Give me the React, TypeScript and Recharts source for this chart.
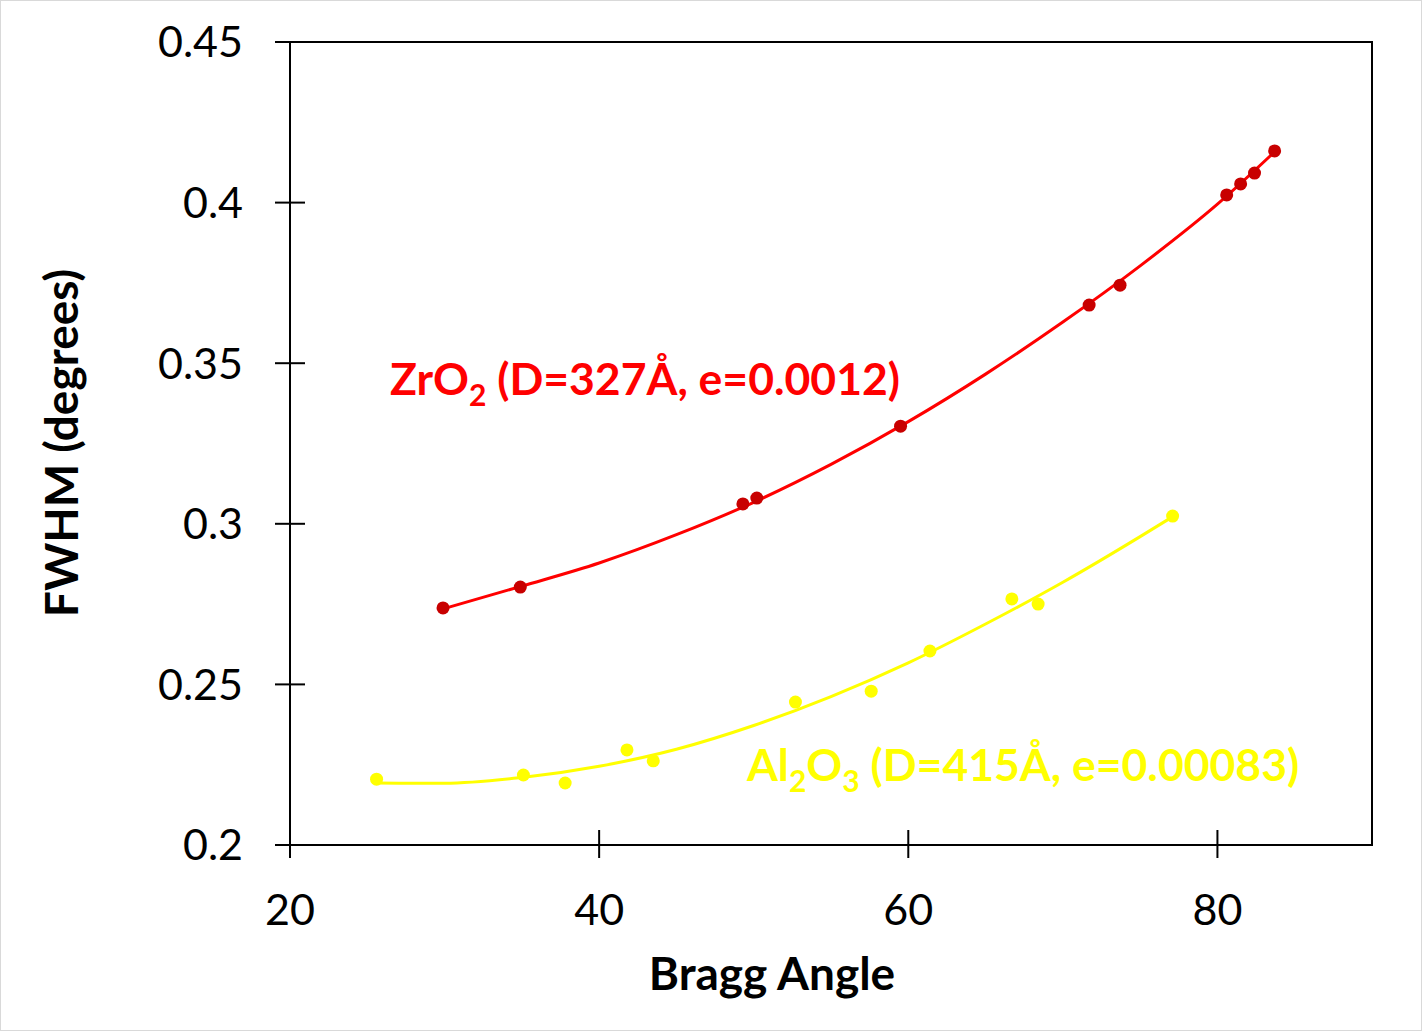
import React from 'react';
import { ComposedChart, Scatter, Line, XAxis, YAxis, ReferenceArea } from 'recharts';

// measured points
const zro2Angle = [29.9, 34.9, 49.3, 50.2, 59.5, 71.7, 73.7, 80.6, 81.5, 82.4, 83.7];
const zro2Fwhm = [0.2738, 0.2803, 0.3062, 0.308, 0.3304, 0.3681, 0.3743, 0.4024, 0.4058, 0.4092, 0.4161];
const al2o3Angle = [25.6, 35.1, 37.8, 41.8, 43.5, 52.7, 57.6, 61.4, 66.7, 68.4, 77.1];
const al2o3Fwhm = [0.2205, 0.2218, 0.2193, 0.2296, 0.2262, 0.2445, 0.2479, 0.2604, 0.2766, 0.275, 0.3024];

// trend lines
const zro2TrendAngle = [29.9, 35, 40, 45, 50, 55, 60, 65, 70, 75, 80, 83.7];
const zro2TrendFwhm = [0.2735, 0.2806, 0.2878, 0.2966, 0.3067, 0.3185, 0.3318, 0.3466, 0.3628, 0.3803, 0.3995, 0.4158];
const al2o3TrendAngle = [25.6, 30, 35, 40, 45, 50, 55, 60, 65, 70, 75, 77.1];
const al2o3TrendFwhm = [0.2193, 0.2192, 0.221, 0.2245, 0.2298, 0.2372, 0.2462, 0.2567, 0.2688, 0.2818, 0.296, 0.3022];

const xTicks = [20, 40, 60, 80];
const yTicks = [0.2, 0.25, 0.3, 0.35, 0.4, 0.45];

const zip = (xs: number[], ys: number[]) => xs.map((x, i) => ({ x, y: ys[i] }));

const zro2Points = zip(zro2Angle, zro2Fwhm);
const al2o3Points = zip(al2o3Angle, al2o3Fwhm);
const zro2Trend = zip(zro2TrendAngle, zro2TrendFwhm);
const al2o3Trend = zip(al2o3TrendAngle, al2o3TrendFwhm);

const FONT = 'Lato, "Open Sans", sans-serif';
const RED = '#FF0000';
const RED_DOT = '#C80000';
const YELLOW = '#FFFF00';

const YTick = (props: any) => {
  const { x, y, payload } = props;
  const ax = x + 47;
  return (
    <g>
      <line x1={ax - 15} x2={ax + 15} y1={y} y2={y} stroke="#000" strokeWidth={2} />
      <text x={x} y={y} dy="0.36em" textAnchor="end" fontSize={43} fontFamily={FONT} fill="#000">
        {String(payload.value)}
      </text>
    </g>
  );
};

const XTick = (props: any) => {
  const { x, y, payload } = props;
  const ay = y - 20;
  return (
    <g>
      <line x1={x} x2={x} y1={ay - 15} y2={ay + 13} stroke="#000" strokeWidth={2} />
      <text x={x} y={ay + 80} textAnchor="middle" fontSize={43} fontFamily={FONT} fill="#000">
        {String(payload.value)}
      </text>
    </g>
  );
};

export default function App() {
  return (
    <div
      style={{
        position: 'absolute',
        left: 0,
        top: 0,
        width: 1422,
        height: 1031,
        boxSizing: 'border-box',
        border: '1px solid #d9d9d9',
        background: '#fff',
      }}
    >
      <div style={{ position: 'absolute', left: -1, top: -1 }}>
        <ComposedChart width={1422} height={1031} margin={{ top: 42, right: 50, bottom: 126, left: 170 }}>
          <XAxis
            dataKey="x"
            type="number"
            domain={[20, 90]}
            ticks={xTicks}
            height={60}
            tickSize={15}
            tickMargin={5}
            tickLine={false}
            tick={<XTick />}
            axisLine={{ stroke: '#000', strokeWidth: 2 }}
            allowDataOverflow
          />
          <YAxis
            dataKey="y"
            type="number"
            domain={[0.2, 0.45]}
            ticks={yTicks}
            width={120}
            tickSize={15}
            tickMargin={32}
            tickLine={false}
            tick={<YTick />}
            axisLine={{ stroke: '#000', strokeWidth: 2 }}
            allowDataOverflow
          />
          <ReferenceArea x1={20} x2={90} y1={0.2} y2={0.45} fill="none" stroke="#000" strokeWidth={2} />
          <Line
            data={zro2Trend}
            dataKey="y"
            type="monotone"
            stroke={RED}
            strokeWidth={3}
            dot={false}
            isAnimationActive={false}
          />
          <Line
            data={al2o3Trend}
            dataKey="y"
            type="monotone"
            stroke={YELLOW}
            strokeWidth={3}
            dot={false}
            isAnimationActive={false}
          />
          <Scatter
            data={zro2Points}
            fill={RED_DOT}
            shape={(p: any) => <circle cx={p.cx} cy={p.cy} r={6.5} fill={RED_DOT} />}
            isAnimationActive={false}
          />
          <Scatter
            data={al2o3Points}
            fill={YELLOW}
            shape={(p: any) => <circle cx={p.cx} cy={p.cy} r={6.5} fill={YELLOW} />}
            isAnimationActive={false}
          />
        </ComposedChart>
      </div>
      <svg
        width={1422}
        height={1031}
        style={{ position: 'absolute', left: -1, top: -1, pointerEvents: 'none' }}
        fontFamily={FONT}
        fontWeight="bold"
      >
        <text x={390} y={395} fontSize={44.5} fill={RED}>
          ZrO
          <tspan fontSize={30} dy={11}>2</tspan>
          <tspan dy={-11}> (D=327Å, e=0.0012)</tspan>
        </text>
        <text x={747} y={781} fontSize={44.5} fill={YELLOW}>
          Al
          <tspan fontSize={30} dy={11}>2</tspan>
          <tspan dy={-11}>O</tspan>
          <tspan fontSize={30} dy={11}>3</tspan>
          <tspan dy={-11}> (D=415Å, e=0.00083)</tspan>
        </text>
        <text x={772} y={990} fontSize={46} textAnchor="middle" fill="#000">
          Bragg Angle
        </text>
        <text x={78} y={443} fontSize={46} textAnchor="middle" fill="#000" transform="rotate(-90, 78, 443)">
          FWHM (degrees)
        </text>
      </svg>
    </div>
  );
}
